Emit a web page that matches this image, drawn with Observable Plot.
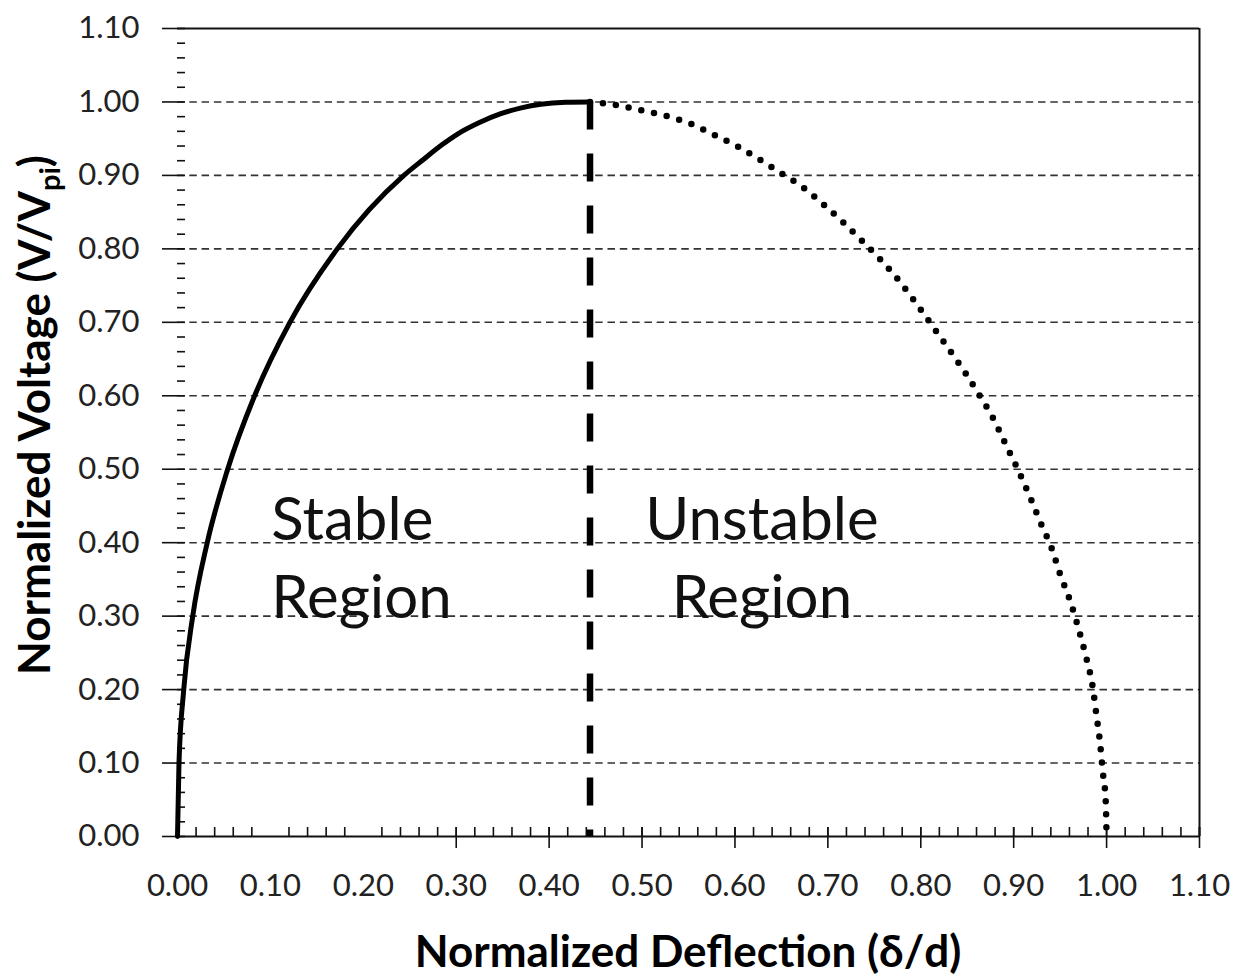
<!DOCTYPE html>
<html>
<head>
<meta charset="utf-8">
<script src="https://cdn.jsdelivr.net/npm/d3@7"></script>
<script src="https://cdn.jsdelivr.net/npm/@observablehq/plot@0.6"></script>
<style>
  html, body { margin: 0; padding: 0; background: #fff; }
  #chart { width: 1245px; height: 979px; }
</style>
</head>
<body>
<div id="chart"></div>
<script>
// ---- Data ----
// Stable branch (solid line)
const stableDeflection = [0, 0.0016, 0.0067, 0.0164, 0.032, 0.054, 0.083, 0.121, 0.172, 0.2437, 0.264, 0.285, 0.301, 0.325, 0.348, 0.370, 0.391, 0.418, 0.444];
const stableVoltage    = [0, 0.10,   0.20,   0.30,   0.40,  0.50,  0.60,  0.70,  0.80,  0.90,   0.921, 0.942, 0.956, 0.972, 0.984, 0.992, 0.997, 0.9996, 1.0];
// Unstable branch (dotted line)
const unstableDeflection = [0.444, 0.471, 0.498, 0.526, 0.553, 0.578, 0.602, 0.626, 0.651, 0.673, 0.694, 0.715, 0.736, 0.757, 0.777, 0.795, 0.812, 0.830, 0.847, 0.863, 0.878, 0.891, 0.904, 0.917, 0.929, 0.941, 0.950, 0.961, 0.970, 0.978, 0.985, 0.989, 0.993, 0.996, 0.999, 1.000];
const unstableVoltage    = [1.0,   0.996, 0.989, 0.981, 0.970, 0.955, 0.940, 0.922, 0.902, 0.884, 0.862, 0.838, 0.812, 0.785, 0.756, 0.726, 0.696, 0.664, 0.633, 0.601, 0.569, 0.535, 0.501, 0.464, 0.427, 0.392, 0.357, 0.320, 0.282, 0.244, 0.204, 0.166, 0.127, 0.087, 0.050, 0.0];
// Pull-in point (boundary between regions)
const pullInDeflection = [0.444];
const pullInVoltage = [1.0];
// Tick values
const xTicks = [0, 0.1, 0.2, 0.3, 0.4, 0.5, 0.6, 0.7, 0.8, 0.9, 1.0, 1.1];
const yTicks = [0, 0.1, 0.2, 0.3, 0.4, 0.5, 0.6, 0.7, 0.8, 0.9, 1.0, 1.1];
const yGridValues = [0.1, 0.2, 0.3, 0.4, 0.5, 0.6, 0.7, 0.8, 0.9, 1.0];
const xMajorTickMarks = [0.3, 0.4, 0.5, 0.6, 0.7, 0.8, 0.9, 1.0, 1.1];
const xMinorTickMarks = d3.range(1, 56).map(i => +(i * 0.02).toFixed(2)).filter(v => v !== 0.1 && v !== 0.2);
const yMinorTickMarks = d3.range(1, 55).map(i => +(i * 0.02).toFixed(2)).filter(v => Math.abs(v * 10 - Math.round(v * 10)) > 1e-6);
const regionLabels = ["Stable\nRegion", "Unstable\nRegion"];
const xTitle = "Normalized Deflection (δ/d)";
const yTitleMain = "Normalized Voltage (V/V";
const yTitleSub = "pi";

// ---- Tables built from the arrays ----
const stable = stableDeflection.map((x, i) => ({x, y: stableVoltage[i]}));
const unstable = unstableDeflection.map((x, i) => ({x, y: unstableVoltage[i]}));

const W = 1245, H = 979, ML = 177, MR = 46, MT = 28, MB = 143;
const FW = W - ML - MR, FH = H - MT - MB;

const chart = Plot.plot({
  width: W, height: H,
  marginLeft: ML, marginRight: MR, marginTop: MT, marginBottom: MB,
  style: {fontFamily: "Lato, sans-serif", fontSize: "31px", color: "#222", background: "#fff"},
  x: {domain: [0, 1.1], ticks: xTicks, tickFormat: d3.format(".2f"), tickSize: 0, tickPadding: 37, label: null},
  y: {domain: [0, 1.1], ticks: yTicks, tickFormat: d3.format(".2f"), tickSize: 0, tickPadding: 38, label: null},
  marks: [
    // dashed horizontal gridlines
    Plot.ruleY(yGridValues, {stroke: "#333", strokeWidth: 1.6, strokeDasharray: "7.5 4.8"}),
    // frame: top, right, bottom
    Plot.ruleY([1.1], {stroke: "#111", strokeWidth: 2}),
    Plot.ruleX([1.1], {stroke: "#111", strokeWidth: 2}),
    Plot.ruleY([0], {stroke: "#111", strokeWidth: 2}),
    // y ticks: major cross, minor inside
    Plot.ruleY(yTicks, {insetLeft: -15, insetRight: FW - 8, stroke: "#111", strokeWidth: 1.6}),
    Plot.ruleY(yMinorTickMarks, {insetRight: FW - 8, stroke: "#111", strokeWidth: 1.6}),
    // x ticks: minor inside, major cross
    Plot.ruleX(xMinorTickMarks, {insetTop: FH - 9, stroke: "#111", strokeWidth: 1.6}),
    Plot.ruleX(xMajorTickMarks, {insetTop: FH - 9, insetBottom: -12, stroke: "#111", strokeWidth: 1.6}),
    // curves
    Plot.line(stable, {x: "x", y: "y", stroke: "#000", strokeWidth: 5, curve: "monotone-x"}),
    Plot.line(unstable, {x: "x", y: "y", stroke: "#000", strokeWidth: 6.5, strokeDasharray: "0 13", strokeLinecap: "round", curve: "monotone-x"}),
    // pull-in boundary
    Plot.ruleX(pullInDeflection, {y1: pullInVoltage[0], y2: 0, stroke: "#000", strokeWidth: 6.5, strokeDasharray: "28 24"}),
    // region labels
    Plot.text([regionLabels[0]], {x: 0.101, y: 0.480, text: d => d, textAnchor: "start", lineAnchor: "top", fontSize: 60, lineHeight: 1.31, fill: "#111"}),
    Plot.text([regionLabels[1]], {x: 0.629, y: 0.480, text: d => d, textAnchor: "middle", lineAnchor: "top", fontSize: 60, lineHeight: 1.31, fill: "#111"})
  ]
});

document.getElementById("chart").appendChild(chart);

// axis titles
const svg = d3.select(chart);
svg.append("text")
  .attr("x", ML + FW / 2).attr("y", 967)
  .attr("text-anchor", "middle")
  .style("font", "bold 44px Lato, sans-serif")
  .attr("fill", "#000")
  .text(xTitle);

const yt = svg.append("text")
  .attr("transform", `translate(50, 415) rotate(-90)`)
  .attr("text-anchor", "middle")
  .style("font", "bold 44px Lato, sans-serif")
  .attr("fill", "#000");
yt.append("tspan").text(yTitleMain);
yt.append("tspan").attr("dy", 10).style("font-size", "29px").text(yTitleSub);
yt.append("tspan").attr("dy", -10).text(")");
</script>
</body>
</html>
